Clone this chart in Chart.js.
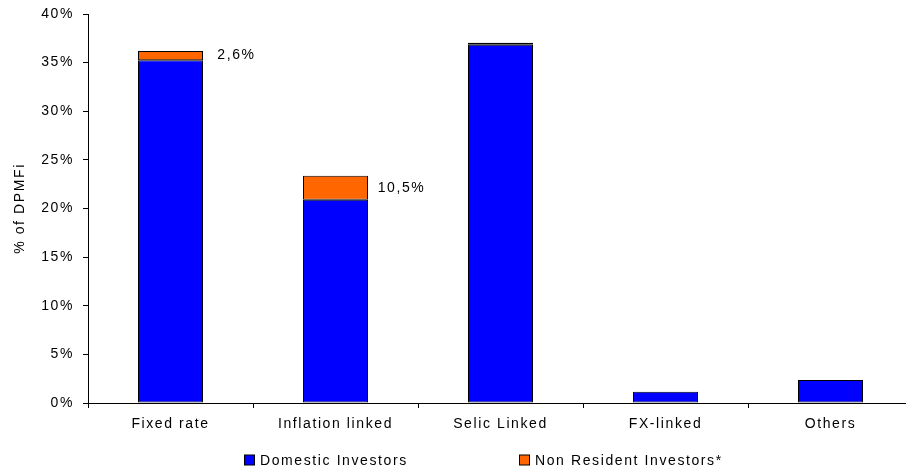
<!DOCTYPE html>
<html><head><meta charset="utf-8">
<script src="https://cdn.jsdelivr.net/npm/chart.js@4"></script>
<style>html,body{margin:0;padding:0;overflow:hidden;background:#fff;width:906px;height:469px}canvas{display:block}</style>
</head><body>
<canvas id="c" width="913" height="469"></canvas>
<script>
// ---- data ----
const categories = ['Fixed rate', 'Inflation linked', 'Selic Linked', 'FX-linked', 'Others'];
const domestic = [35.25, 20.9, 36.85, 1.16, 2.36];
const nonResident = [0.95, 2.48, 0.2, null, null];
const shareLabels = ['2,6%', '10,5%', '', '', ''];
const seriesNames = ['Domestic Investors', 'Non Resident Investors*'];
const yMin = 0, yMax = 40, yStep = 5;
const yTitle = '% of DPMFi';

// ---- styles ----
const FONT = '"Liberation Sans", Arial, sans-serif';
const LS = '1.6px';
Chart.defaults.font.family = FONT;
Chart.defaults.font.size = 14;
Chart.defaults.color = '#000';

const spacingPlugin = {
  id: 'spacing',
  beforeUpdate(c) { c.ctx.letterSpacing = LS; },
  beforeDraw(c) { c.ctx.letterSpacing = LS; }
};

const shareLabelPlugin = {
  id: 'shareLabels',
  afterDatasetsDraw(chart) {
    const ctx = chart.ctx;
    const meta = chart.getDatasetMeta(1);
    ctx.save();
    ctx.letterSpacing = LS;
    ctx.font = '14px ' + FONT;
    ctx.fillStyle = '#000';
    ctx.textAlign = 'center';
    ctx.textBaseline = 'middle';
    shareLabels.forEach((t, i) => {
      if (!t) return;
      const el = meta.data[i];
      if (!el) return;
      ctx.fillText(t, el.x + el.width + 1, (el.y + el.base) / 2);
    });
    ctx.restore();
  }
};

const legendPlugin = {
  id: 'customLegend',
  afterDraw(chart) {
    const ctx = chart.ctx;
    const xs = [244.5, 519.5];
    const yMid = 460;
    ctx.save();
    ctx.letterSpacing = LS;
    ctx.font = '14px ' + FONT;
    ctx.textBaseline = 'middle';
    ctx.textAlign = 'left';
    chart.data.datasets.forEach((ds, i) => {
      ctx.fillStyle = ds.backgroundColor;
      ctx.fillRect(xs[i], yMid - 5, 10, 10);
      ctx.strokeStyle = '#000';
      ctx.lineWidth = 1;
      ctx.strokeRect(xs[i], yMid - 5, 10, 10);
      ctx.fillStyle = '#000';
      ctx.fillText(ds.label, xs[i] + 15.5, yMid + 1);
    });
    ctx.restore();
  }
};

new Chart(document.getElementById('c'), {
  type: 'bar',
  data: {
    labels: categories,
    datasets: [
      { label: seriesNames[0], data: domestic, backgroundColor: '#0000FF', borderColor: '#000', borderWidth: 1, borderSkipped: false },
      { label: seriesNames[1], data: nonResident, backgroundColor: '#FF6600', borderColor: '#000', borderWidth: 1, borderSkipped: false }
    ]
  },
  options: {
    responsive: false,
    devicePixelRatio: 1,
    animation: false,
    events: [],
    datasets: { bar: { categoryPercentage: 65 / 165, barPercentage: 1 } },
    layout: { padding: { left: 0, right: 0, top: 14, bottom: 36 } },
    plugins: { legend: { display: false }, tooltip: { enabled: false } },
    scales: {
      x: {
        stacked: true,
        grid: { display: true, drawOnChartArea: false, drawTicks: true, tickLength: 5, color: '#000', offset: true },
        border: { display: true, color: '#000', width: 1 },
        ticks: { padding: 8, color: '#000', maxRotation: 0, autoSkip: false, font: { size: 14 } },
        afterFit(s) { s.height = 30; s.paddingLeft = 0; s.paddingRight = 0; }
      },
      y: {
        stacked: true,
        min: yMin, max: yMax,
        grid: { display: true, drawOnChartArea: false, drawTicks: true, tickLength: 5, color: '#000' },
        border: { display: true, color: '#000', width: 1 },
        ticks: { stepSize: yStep, padding: 9, color: '#000', font: { size: 14 }, callback: v => v + '%' },
        title: { display: true, text: yTitle, color: '#000', font: { size: 14 }, padding: { top: 12, bottom: 0 } },
        afterFit(s) { s.width = 88; s.paddingTop = 0; s.paddingBottom = 0; }
      }
    }
  },
  plugins: [spacingPlugin, shareLabelPlugin, legendPlugin]
});
</script>
</body></html>
